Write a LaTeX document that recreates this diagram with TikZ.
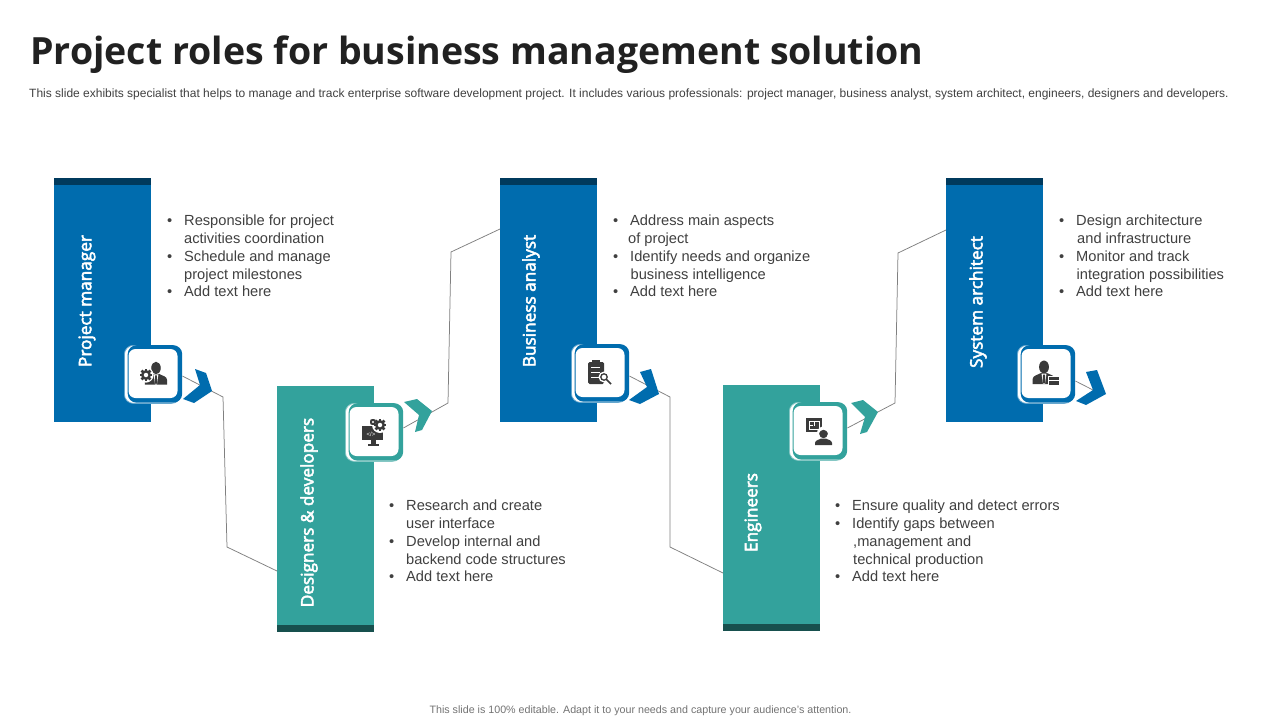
\documentclass[tikz,border=0pt]{standalone}
\usepackage{fontspec}
\setmainfont{Liberation Sans}
\newfontfamily\titlefont{Open Sans}
\newfontfamily\barfont[FakeBold=3]{Open Sans}
\definecolor{cblue}{HTML}{006CAE}
\definecolor{cbluedark}{HTML}{003A5D}
\definecolor{cteal}{HTML}{33A29C}
\definecolor{ctealdark}{HTML}{17504E}
\definecolor{ctext}{HTML}{404040}
\definecolor{cicon}{HTML}{3A3A3A}
\tikzset{
  barbox/.style={draw=none,fill=#1,minimum width=97pt,inner sep=0,outer sep=0,anchor=north west},
  barcap/.style={draw=none,fill=#1,minimum width=97pt,minimum height=7pt,inner sep=0,outer sep=0,anchor=north west},
  barlabel/.style={rotate=90,text=white,font=\barfont\fontsize{17.2}{18}\selectfont,inner sep=0},
  listtext/.style={anchor=north west,inner sep=0,align=left,text=ctext,font=\fontsize{14.65}{17.75}\selectfont},
  link/.style={draw=black!50,line width=0.75pt},
  iconouter/.style={draw=#1!60,line width=0.8pt,fill=white,rounded corners=9pt,inner sep=0,minimum width=56pt,minimum height=58pt,anchor=north west},
  icondark/.style={fill=#1,draw=none,rounded corners=9pt,inner sep=0,minimum width=54.5pt,minimum height=57.5pt,anchor=north west},
  iconwhite/.style={fill=white,draw=none,rounded corners=7pt,inner sep=0,minimum width=49pt,minimum height=49pt},
  iconink/.style={fill=cicon,draw=none},
}
% #1 name, #2 x, #3 y (top-left outer), #4 colour
\newcommand{\iconbox}[4]{
  \node[iconouter=#4] (#1o) at (#2,#3) {};
  \node[icondark=#4] (#1) at (#2+3.5,#3) {};
  \node[iconwhite] (#1c) at (#2+29,#3+28.5) {};
}
\newcommand{\bust}[3]{% x,y of head centre, scale
  \begin{scope}[shift={(#1,#2)},scale=#3]
    \fill[cicon] (0,0) ellipse (5.2 and 6.8);
    \fill[cicon] (-12,18) -- (-12,13) .. controls (-12,9) and (-7,8.5) .. (-3.5,6.5) -- (3.5,6.5) .. controls (7,8.5) and (12,9) .. (12,13) -- (12,18) -- cycle;
    \fill[white] (-2.6,7) -- (2.6,7) -- (1,18) -- (-1,18) -- cycle;
    \fill[cicon] (-1,8) -- (1,8) -- (1.3,16) -- (0,18) -- (-1.3,16) -- cycle;
  \end{scope}}
\newcommand{\gearicon}[3]{% x,y,radius
  \begin{scope}[shift={(#1,#2)}]
    \foreach \a in {0,45,...,315}{\fill[cicon,rotate=\a] (-0.28*#3,0) rectangle (0.28*#3,1.25*#3);}
    \fill[cicon] (0,0) circle (#3);
    \fill[white] (0,0) circle (0.45*#3);
  \end{scope}}
\begin{document}
\begin{tikzpicture}[x=1pt,y=-1pt]
\useasboundingbox (0,0) rectangle (1280,720);
\fill[white] (0,0) rectangle (1280,720);

% titles
\node[anchor=west,inner sep=0,text=black!87,font=\titlefont\bfseries\fontsize{37.5}{40}\selectfont] (title) at (30,55) {Project roles for business management solution};
\node[anchor=west,inner sep=0,text=ctext,font=\fontsize{12}{14}\selectfont] (subtitle) at (29,94) {This slide exhibits specialist that helps to manage and track enterprise software development project. It includes various professionals: project manager, business analyst, system architect, engineers, designers and developers.};
\node[anchor=center,inner sep=0,text=black!55,font=\fontsize{10.7}{12}\selectfont] (footer) at (640.5,711) {This slide is 100\% editable.  Adapt it to your needs and capture your audience's attention.};

% bars
\node[barbox=cblue,minimum height=244pt] (barA) at (54,178) {};
\node[barcap=cbluedark] (capA) at (54,178) {};
\node[barbox=cteal,minimum height=246pt] (barB) at (277,386) {};
\node[barcap=ctealdark] (capB) at (277,625) {};
\node[barbox=cblue,minimum height=244pt] (barC) at (500,178) {};
\node[barcap=cbluedark] (capC) at (500,178) {};
\node[barbox=cteal,minimum height=246pt] (barD) at (723,385) {};
\node[barcap=ctealdark] (capD) at (723,624) {};
\node[barbox=cblue,minimum height=244pt] (barE) at (946,178) {};
\node[barcap=cbluedark] (capE) at (946,178) {};

\node[barlabel] (labA) at (87,301) {Project manager};
\node[barlabel] (labB) at (309,512.5) {Designers \& developers};
\node[barlabel] (labC) at (531,301) {Business analyst};
\node[barlabel] (labD) at (753,512.5) {Engineers};
\node[barlabel] (labE) at (978,302) {System architect};

% icon boxes
\iconbox{icA}{124}{345}{cblue}
\iconbox{icB}{345}{403}{cteal}
\iconbox{icC}{571}{344}{cblue}
\iconbox{icD}{789}{402}{cteal}
\iconbox{icE}{1017}{345}{cblue}

% connectors
\coordinate (a1) at (223,397); \coordinate (a2) at (227,547); \coordinate (a3) at (277,571);
\coordinate (b0) at (403,428); \coordinate (b1) at (448,403); \coordinate (b2) at (451,252); \coordinate (b3) at (500,229);
\coordinate (c0) at (629,376); \coordinate (c1) at (670,397); \coordinate (c2) at (670,547); \coordinate (c3) at (723,573);
\coordinate (d0) at (848,428); \coordinate (d1) at (895,403); \coordinate (d2) at (898,253); \coordinate (d3) at (946,230);
\coordinate (e0) at (1075,381); \coordinate (e1) at (1093,390);
\draw[link] (icA.east |- 0,376) -- (a1) -- (a2) -- (barB.west |- a3);
\draw[link] (icB.east |- b0) -- (b1) -- (b2) -- (barC.west |- b3);
\draw[link] (icC.east |- c0) -- (c1) -- (c2) -- (barD.west |- c3);
\draw[link] (icD.east |- d0) -- (d1) -- (d2) -- (barE.west |- d3);
\draw[link] (icE.east |- e0) -- (e1);

% chevrons
\fill[cblue] (195,369) -- (206,373) -- (212,391) -- (194,403) -- (183,399) -- (200,385) -- cycle;
\fill[cteal] (404,402) -- (417,399) -- (432,411) -- (422,430) -- (415,432) -- (419,415) -- cycle;
\fill[cblue] (640,372) -- (651,369) -- (659,394) -- (640,404) -- (629,400) -- (647,387) -- cycle;
\fill[cteal] (851,403) -- (863,400) -- (878,412) -- (867,432) -- (860,434) -- (865,417) -- cycle;
\fill[cblue] (1086,372) -- (1097,370) -- (1106,394) -- (1086,405) -- (1076,401) -- (1093,390) -- cycle;

% icon A: manager with gear
\bust{156}{368}{0.92}
\fill[white] (146,375) circle (7.6);
\gearicon{146}{375}{5}

% icon B: monitor with gears
\fill[cicon] (362,426) rectangle (383,440);
\fill[cicon] (371,440) rectangle (376,444);
\fill[cicon] (368,444) rectangle (379,446);
\node[inner sep=0,text=white,font=\fontsize{6}{6}\selectfont] (icBcode) at (371,434) {</>};
\fill[white] (380,425) circle (8);
\gearicon{380}{425}{5}
\gearicon{373}{422}{2.6}

% icon C: clipboard with magnifier
\fill[cicon,rounded corners=1.5pt] (588,362) rectangle (604,384);
\fill[cicon] (592,360) rectangle (600,363);
\foreach \yy in {367,372,377}{\draw[white,line width=0.7pt] (591,\yy) -- (600,\yy);}
\fill[white] (604,377) circle (5.5);
\draw[cicon,line width=1.3pt] (604,377) circle (3.2);
\draw[cicon,line width=1.5pt] (606.5,379.5) -- (611,384);

% icon D: blueprint with engineer
\fill[cicon] (806,418) rectangle (822,432);
\draw[white,line width=0.5pt] (809,421) rectangle (819,429);
\draw[white,line width=0.5pt] (814,421) -- (814,426) (809,425) -- (813,425);
\fill[white] (823.5,433) circle (6.5);
\fill[cicon] (823.5,434) circle (4.2);
\fill[cicon] (819,432.5) arc (180:0:4.5) -- cycle;
\fill[cicon] (815,445) -- (815,443) .. controls (815,440) and (820,439.5) .. (821,438.5) -- (826,438.5) .. controls (827,439.5) and (832,440) .. (832,443) -- (832,445) -- cycle;

% icon E: businessman with case
\bust{1044}{367}{0.95}
\fill[white] (1048,376) rectangle (1060,385.5);
\fill[cicon] (1049,377) rectangle (1059,385);
\draw[white,line width=0.4pt] (1049,380.5) -- (1059,380.5);

% lists
\newcommand{\bul}{\makebox[17pt][l]{•}}
\node[listtext] (listA) at (167,215) {\bul Responsible for project\\\hspace*{17pt}activities coordination\\\bul Schedule and manage\\\hspace*{17pt}project milestones\\\bul Add text here};
\node[listtext] (listB) at (389,500) {\bul Research and create\\\hspace*{17pt}user interface\\\bul Develop internal and\\\hspace*{17pt}backend code structures\\\bul Add text here};
\node[listtext] (listC) at (613,215) {\bul Address main aspects\\\hspace*{15pt}of project\\\bul Identify needs and organize\\\hspace*{17.5pt}business intelligence\\\bul Add text here};
\node[listtext] (listD) at (835,500) {\bul Ensure quality and detect errors\\\bul Identify gaps between\\\hspace*{18pt},management and\\\hspace*{18pt}technical production\\\bul Add text here};
\node[listtext] (listE) at (1059,215) {\bul Design architecture\\\hspace*{18pt}and infrastructure\\\bul Monitor and track\\\hspace*{17.5pt}integration possibilities\\\bul Add text here};
\end{tikzpicture}
\end{document}
